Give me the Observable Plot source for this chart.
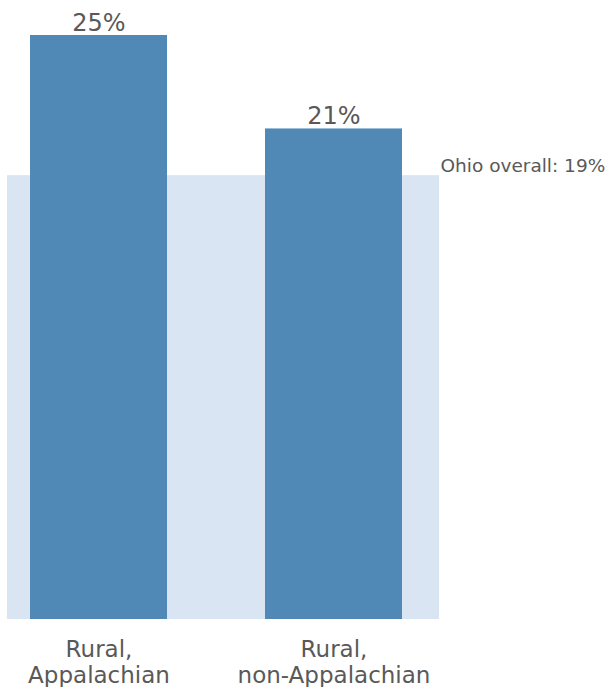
<!DOCTYPE html>
<html>
<head>
<meta charset="utf-8">
<script src="https://cdn.jsdelivr.net/npm/d3@7"></script>
<script src="https://cdn.jsdelivr.net/npm/@observablehq/plot@0.6"></script>
<style>
  html, body { margin: 0; padding: 0; background: #fff; }
  svg { display: block; }
</style>
</head>
<body>
<div id="chart"></div>
<script>
const categories = ["Rural,\nAppalachian", "Rural,\nnon-Appalachian"];
const values = [25, 21];
const overallValue = 19;
const overallLabel = "Ohio overall: 19%";

const data = categories.map((c, i) => ({category: c, value: values[i]}));
const font = "DejaVu Sans, sans-serif";
const textColor = "#595959";

const chart = Plot.plot({
  width: 606,
  height: 687,
  marginLeft: 7,
  marginRight: 167,
  marginTop: 35,
  marginBottom: 68,
  style: {fontFamily: font, background: "#fff"},
  x: {domain: categories, paddingInner: 0.417, paddingOuter: 0.1255, align: 0.39, axis: null},
  y: {domain: [0, 25], axis: null},
  marks: [
    Plot.rectY([overallValue], {y1: 0, y2: d => d, fill: "#dae5f3"}),
    Plot.barY(data, {x: "category", y: "value", fill: "#5088b6"}),
    Plot.text(data, {
      x: "category", y: "value", text: d => d.value + "%",
      lineAnchor: "bottom", dy: -5, fontSize: 24, fill: textColor, fontFamily: font
    }),
    Plot.text(data, {
      x: "category", text: "category", frameAnchor: "bottom",
      lineAnchor: "top", dy: 20, lineHeight: 1.1, fontSize: 23, fill: textColor, fontFamily: font
    }),
    Plot.text([overallValue], {
      y: d => d, text: () => overallLabel, frameAnchor: "right",
      textAnchor: "start", lineAnchor: "bottom", dx: 1, dy: -4,
      fontSize: 18.5, fill: textColor, fontFamily: font
    })
  ]
});
document.getElementById("chart").appendChild(chart);
</script>
</body>
</html>
